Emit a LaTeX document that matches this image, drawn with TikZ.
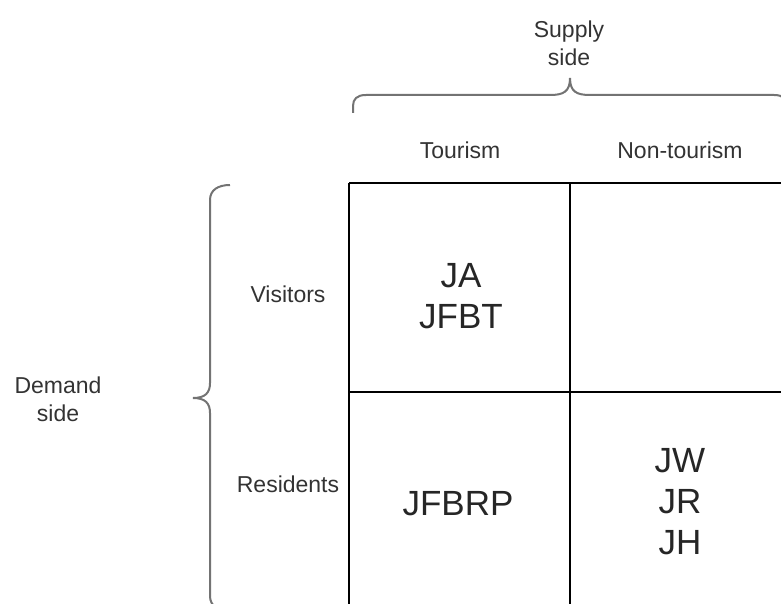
\documentclass[tikz,border=0pt]{standalone}
\usepackage{fontspec}
\setmainfont{Liberation Sans}
\begin{document}
\begin{tikzpicture}[x=1pt,y=-1pt,
  small/.style={font=\fontsize{23}{28}\selectfont, align=center, text=black!80, inner sep=0pt},
  big/.style={font=\fontsize{35}{41}\selectfont, align=center, text=black!85, inner sep=0pt},
  gridline/.style={line width=2pt, draw=black},
  bracestyle/.style={line width=2pt, draw=black!55}]
\useasboundingbox (0,0) rectangle (781,604);
\clip (0,0) rectangle (781,604);
% grid
\coordinate (tl) at (349,183);
\coordinate (tm) at (570,183);
\coordinate (tr) at (795,183);
\coordinate (ml) at (349,392);
\coordinate (mm) at (570,392);
\coordinate (mr) at (795,392);
\coordinate (bl) at (349,620);
\coordinate (bm) at (570,620);
\draw[gridline] (tl) -- (tr);
\draw[gridline] (ml) -- (mr);
\draw[gridline] (tl) -- (bl);
\draw[gridline] (tm) -- (bm);
% top brace
\draw[bracestyle] (353,113) -- (353,106) .. controls (353,99) and (357,95) .. (366,95) -- (550,95)
  .. controls (563,95) and (570,92) .. (570,78)
  .. controls (570,92) and (577,95) .. (590,95) -- (774,95)
  .. controls (783,95) and (787,99) .. (787,106) -- (787,113);
% left brace
\draw[bracestyle] (230,185) .. controls (218,185) and (210,190) .. (210,200) -- (210,383)
  .. controls (210,393) and (205,398) .. (193,398)
  .. controls (205,398) and (210,403) .. (210,413) -- (210,596)
  .. controls (210,606) and (218,611) .. (230,611);
% labels
\node[small] (supply) at (569,43) {Supply\\side};
\node[small] (demand) at (58,399) {Demand\\side};
\node[small, anchor=base] (tourism) at (460,159) {Tourism};
\node[small, anchor=base] (nontourism) at (680,159) {Non-tourism};
\node[small, anchor=base] (visitors) at (288,302) {Visitors};
\node[small, anchor=base] (residents) at (288,492) {Residents};
% cells
\node[big] (va) at (461,296) {JA\\JFBT};
\node[big, anchor=base] (rt) at (458,515) {JFBRP};
\node[big] (rn) at (680,502) {JW\\JR\\JH};
\end{tikzpicture}
\end{document}
